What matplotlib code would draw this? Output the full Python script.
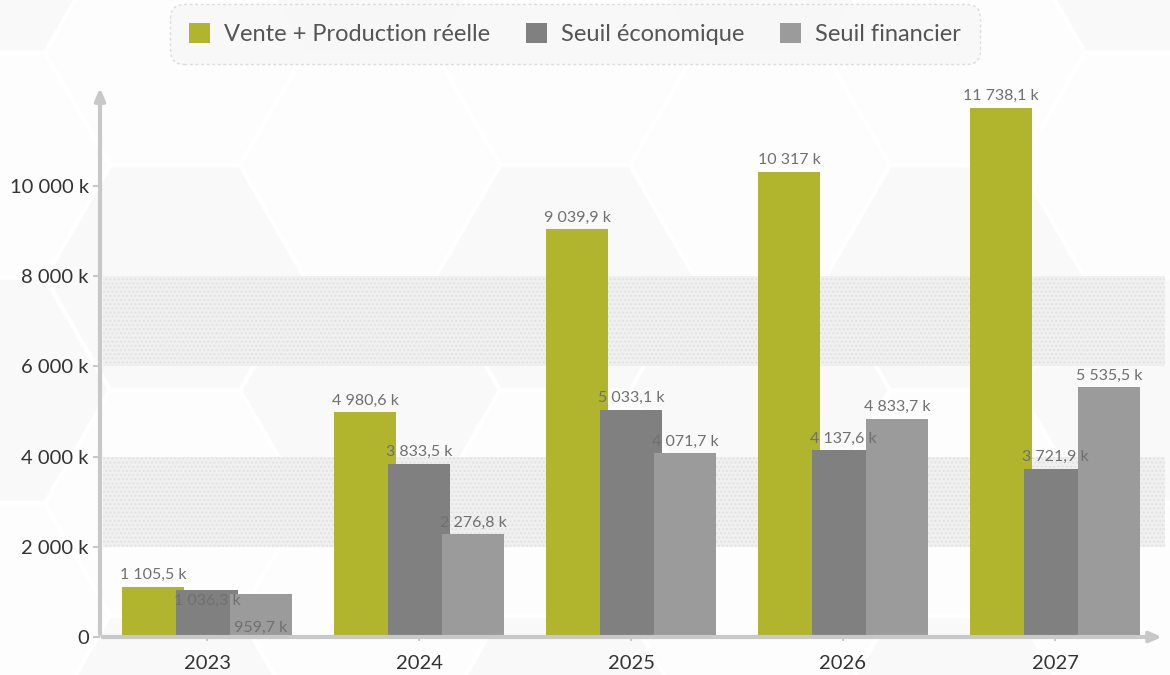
import matplotlib
matplotlib.use("Agg")
import matplotlib.pyplot as plt
from matplotlib.patches import RegularPolygon
import numpy as np

years = ["2023", "2024", "2025", "2026", "2027"]
vente = [1105.5, 4980.6, 9039.9, 10317, 11738.1]
seuil_eco = [1036.3, 3833.5, 5033.1, 4137.6, 3721.9]
seuil_fin = [959.7, 2276.8, 4071.7, 4833.7, 5535.5]
series_names = ["Vente + Production réelle", "Seuil économique", "Seuil financier"]
colors = ["#B0B52D", "#808080", "#9B9B9B"]
yticks = [0, 2000, 4000, 6000, 8000, 10000]
ytick_labels = ["0", "2 000 k", "4 000 k", "6 000 k", "8 000 k", "10 000 k"]

def fmt(v):
    if float(v).is_integer():
        s = f"{int(v):,}".replace(",", " ")
    else:
        s = f"{v:,.1f}".replace(",", " ").replace(".", ",")
    return s + " k"

plt.rcParams['font.family'] = ['Lato', 'DejaVu Sans']
fig = plt.figure(figsize=(11.7, 6.75), dpi=100)
fig.patch.set_facecolor("white")

# very faint hexagon background
bg = fig.add_axes([0, 0, 1, 1], zorder=-5)
bg.set_xlim(0, 1170); bg.set_ylim(675, 0); bg.axis("off")
r = 130
for i, cx in enumerate(np.arange(-20, 1300, r * 1.5)):
    for j, cy in enumerate(np.arange(-60 + (i % 2) * r * 0.866, 760, r * 1.732)):
        fc = "#fdfdfd" if (i + j) % 2 else "#f9f9f9"
        bg.add_patch(RegularPolygon((cx, cy), 6, radius=r * 0.98, orientation=np.pi / 6,
                                    facecolor=fc, edgecolor="none"))

ax = fig.add_axes([100 / 1170, 38 / 675, 1065 / 1170, 552 / 675])
ax.patch.set_alpha(0)
ax.set_xlim(-0.505, 4.519)
ax.set_ylim(0, 12240)

for lo, hi in [(2000, 4000), (6000, 8000)]:
    ax.axhspan(lo, hi, xmin=0.003, xmax=1, facecolor="#f0f0f0", edgecolor="#e2e2e2",
               hatch="....", lw=0, zorder=0)

x = np.arange(len(years))
w = 0.29
offs = [-0.255, 0, 0.255]
data = [vente, seuil_eco, seuil_fin]
for k in range(3):
    ax.bar(x + offs[k], data[k], width=w, color=colors[k], zorder=2 + k, label=series_names[k])

for k in range(3):
    for i, v in enumerate(data[k]):
        dy = 3.5
        if i == 0 and k == 1:
            dy = -12.5
        if i == 0 and k == 2:
            dy = -29.5
        ax.annotate(fmt(v), (x[i] + offs[k], v), xytext=(0, dy), textcoords="offset points",
                    ha="center", va="bottom", fontsize=11.5,
                    color="#707070", zorder=10)

for s in ["top", "right", "left", "bottom"]:
    ax.spines[s].set_visible(False)
ax.annotate("", xy=(-0.505, 12240), xytext=(-0.505, 0),
            arrowprops=dict(arrowstyle="-|>,head_length=0.7,head_width=0.3", color="#c8c8c8", lw=3),
            zorder=1, annotation_clip=False)
ax.annotate("", xy=(4.519, 0), xytext=(-0.505, 0),
            arrowprops=dict(arrowstyle="-|>,head_length=0.7,head_width=0.3", color="#c8c8c8", lw=3),
            zorder=6, annotation_clip=False)

ax.set_yticks(yticks)
ax.set_yticklabels(ytick_labels)
ax.set_xticks(x)
ax.set_xticklabels(years)
ax.tick_params(axis="y", length=5, width=1.5, color="#c8c8c8", labelsize=14.5, labelcolor="#333333", pad=3)
ax.tick_params(axis="x", length=6, width=1.5, color="#c8c8c8", labelsize=14.5, labelcolor="#333333",
               pad=10, direction="inout")

leg = fig.legend(loc="center", bbox_to_anchor=(575 / 1170, 1 - 34 / 675), ncol=3, frameon=True,
                 fontsize=17, handlelength=0.9, handleheight=0.9, handletextpad=0.6,
                 columnspacing=1.5, borderpad=0.6, labelcolor="#555555")
fr = leg.get_frame()
fr.set_facecolor("#f7f7f7")
fr.set_edgecolor("#d4d4d4")
fr.set_linestyle((0, (2, 2)))
fr.set_linewidth(1)
fr.set_boxstyle("round,pad=0.2,rounding_size=0.6")

fig.savefig("out.png", dpi=100, facecolor="white")
